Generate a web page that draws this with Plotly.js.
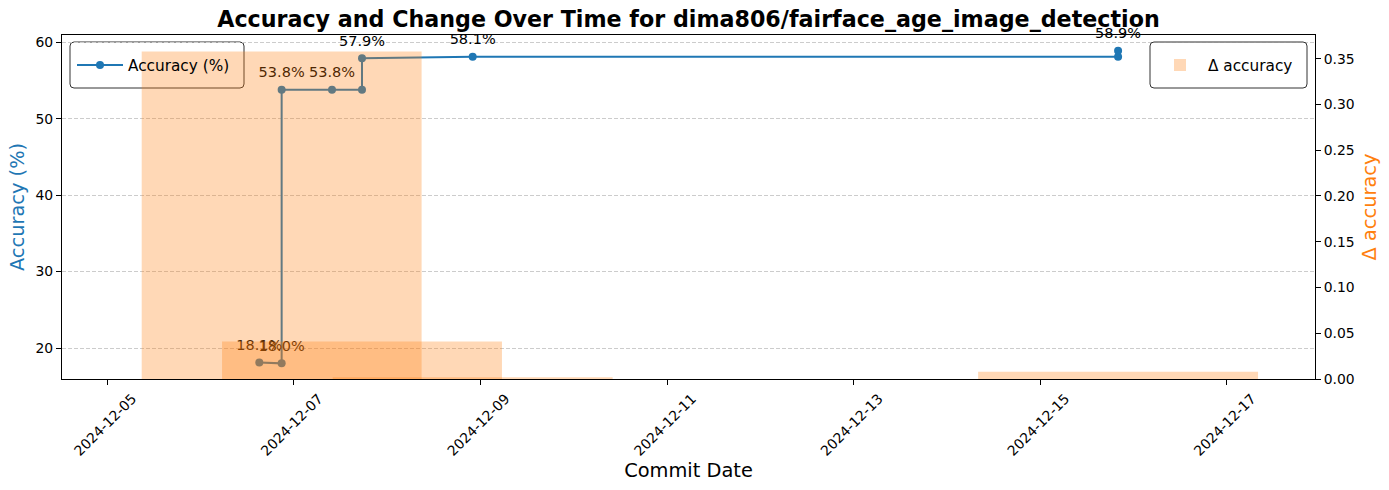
<!DOCTYPE html>
<html>
<head>
<meta charset="utf-8">
<script src="https://cdn.plot.ly/plotly-3.0.1.min.js"></script>
<style>html,body{margin:0;padding:0;background:#fff}#chart{width:1389px;height:490px}</style>
</head>
<body>
<div id="chart"></div>
<script>
// Commit timestamps
const commitDates = [
  '2024-12-06 15:06', '2024-12-06 20:51', '2024-12-06 20:51',
  '2024-12-07 09:48', '2024-12-07 17:31', '2024-12-07 17:31',
  '2024-12-08 21:59', '2024-12-15 20:00', '2024-12-15 20:00'
];
// Accuracy (%) at each commit
const accuracyPct = [18.1, 18.0, 53.8, 53.8, 53.8, 57.9, 58.1, 58.1, 58.9];
// Point labels shown on the chart
const pointLabels = ['18.1%', '18.0%', '53.8%', '53.8%', '', '57.9%', '58.1%', '', '58.9%'];
// Change in accuracy (fraction) at each commit
const deltaAccuracy = [0, -0.001, 0.358, 0, 0, 0.041, 0.002, 0, 0.008];
// Axis tick labels
const y2TickVals = [0, 0.05, 0.10, 0.15, 0.20, 0.25, 0.30, 0.35];
const y2TickText = ['0.00', '0.05', '0.10', '0.15', '0.20', '0.25', '0.30', '0.35'];

const FONT = 'DejaVu Sans, Verdana, sans-serif';
const DAY = 86400000;

// plot-area geometry in pixels (for legend frames)
const PL = 62, PR = 1315, PT = 35, PB = 379;
const px2x = p => (p - PL) / (PR - PL);
const px2y = p => (PB - p) / (PB - PT);
function roundRect(x0, y0, x1, y1, r) {
  const X = px2x, Y = px2y;
  return 'M' + X(x0 + r) + ',' + Y(y0) +
    ' L' + X(x1 - r) + ',' + Y(y0) + ' Q' + X(x1) + ',' + Y(y0) + ' ' + X(x1) + ',' + Y(y0 + r) +
    ' L' + X(x1) + ',' + Y(y1 - r) + ' Q' + X(x1) + ',' + Y(y1) + ' ' + X(x1 - r) + ',' + Y(y1) +
    ' L' + X(x0 + r) + ',' + Y(y1) + ' Q' + X(x0) + ',' + Y(y1) + ' ' + X(x0) + ',' + Y(y1 - r) +
    ' L' + X(x0) + ',' + Y(y0 + r) + ' Q' + X(x0) + ',' + Y(y0) + ' ' + X(x0 + r) + ',' + Y(y0) + ' Z';
}

const traces = [
  {
    type: 'scatter', mode: 'lines+markers',
    x: commitDates, y: accuracyPct,
    name: 'Accuracy (%)',
    line: {color: '#1f77b4', width: 2},
    marker: {color: '#1f77b4', size: 8},
    xaxis: 'x', yaxis: 'y', legend: 'legend',
    hoverinfo: 'x+y'
  },
  {
    type: 'scatter', mode: 'markers+text',
    x: commitDates, y: accuracyPct,
    text: pointLabels, textposition: 'top center',
    textfont: {family: FONT, size: 14.5, color: '#000'},
    marker: {size: 13, color: 'rgba(0,0,0,0)'},
    cliponaxis: false,
    showlegend: false, hoverinfo: 'skip',
    xaxis: 'x', yaxis: 'y'
  },
  {
    type: 'bar',
    x: commitDates, y: deltaAccuracy,
    width: 3 * DAY,
    name: 'Δ accuracy',
    marker: {color: 'rgba(255,127,14,0.3)', line: {width: 0}},
    xaxis: 'x', yaxis: 'y2', legend: 'legend2'
  }
];

const layout = {
  width: 1389, height: 490,
  margin: {l: PL, r: 1389 - PR, t: PT, b: 490 - PB, pad: 0},
  paper_bgcolor: '#fff', plot_bgcolor: '#fff',
  font: {family: FONT, size: 14, color: '#000'},
  barmode: 'overlay',
  title: {
    text: '<b>Accuracy and Change Over Time for dima806/fairface_age_image_detection</b>',
    font: {family: FONT, size: 22.2, color: '#000'},
    x: 0.5, xref: 'paper', xanchor: 'center',
    y: 1 - 19 / 490, yref: 'container', yanchor: 'middle'
  },
  xaxis: {
    type: 'date',
    range: ['2024-12-04 12:21', '2024-12-17 22:39'],
    tick0: '2024-12-05', dtick: 2 * DAY,
    tickformat: '%Y-%m-%d',
    tickangle: -45,
    ticklabelshift: 25,
    tickfont: {family: FONT, size: 13.9},
    ticks: 'outside', ticklen: 5, tickcolor: '#000', tickwidth: 1,
    showline: true, linecolor: '#000', linewidth: 1, mirror: true,
    showgrid: false, zeroline: false,
    title: {text: 'Commit Date', font: {family: FONT, size: 19.4}, standoff: 5}
  },
  yaxis: {
    range: [15.955, 60.945],
    dtick: 10, tick0: 0,
    tickfont: {family: FONT, size: 13.9},
    ticks: 'outside', ticklen: 5, tickcolor: '#000', tickwidth: 1,
    showline: true, linecolor: '#000', linewidth: 1, mirror: true,
    showgrid: true, gridcolor: '#cccccc', gridwidth: 1, griddash: '4px,2px',
    zeroline: false,
    title: {text: 'Accuracy (%)', font: {family: FONT, size: 19.4, color: '#1f77b4'}, standoff: 5}
  },
  yaxis2: {
    overlaying: 'y', side: 'right', anchor: 'x',
    range: [0, 0.3759],
    tickvals: y2TickVals, ticktext: y2TickText,
    tickfont: {family: FONT, size: 13.9},
    ticks: 'outside', ticklen: 5, tickcolor: '#000', tickwidth: 1,
    showline: true, linecolor: '#000', linewidth: 1,
    showgrid: false, zeroline: false,
    title: {text: 'Δ accuracy', font: {family: FONT, size: 19.4, color: '#ff7f0e'}, standoff: 8}
  },
  shapes: [
    {type: 'path', xref: 'paper', yref: 'paper', layer: 'below',
     path: roundRect(70, 42, 244, 88, 4),
     fillcolor: 'rgba(255,255,255,0.8)', line: {color: '#333', width: 1}},
    {type: 'path', xref: 'paper', yref: 'paper', layer: 'above',
     path: roundRect(1150, 42, 1307, 88, 4),
     fillcolor: 'rgba(255,255,255,0.8)', line: {color: '#333', width: 1}}
  ],
  legend: {
    x: px2x(72), y: px2y(65), xanchor: 'left', yanchor: 'middle',
    bgcolor: 'rgba(0,0,0,0)', borderwidth: 0, itemwidth: 46,
    font: {family: FONT, size: 15.3}
  },
  legend2: {
    x: px2x(1152), y: px2y(65), xanchor: 'left', yanchor: 'middle',
    bgcolor: 'rgba(0,0,0,0)', borderwidth: 0, itemwidth: 46,
    font: {family: FONT, size: 15.3}
  },
  showlegend: true
};

Plotly.newPlot('chart', traces, layout, {displayModeBar: false, staticPlot: true});
</script>
</body>
</html>
